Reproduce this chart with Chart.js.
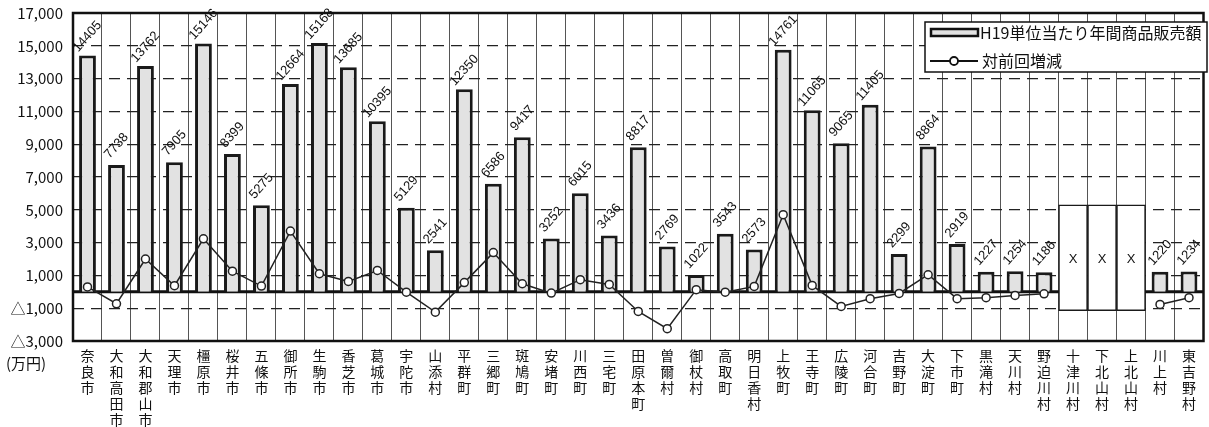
<!DOCTYPE html>
<html><head><meta charset="utf-8">
<script src="https://cdn.jsdelivr.net/npm/chart.js@4/dist/chart.umd.min.js"></script>
<style>html,body{margin:0;padding:0;background:#fff}#wrap{width:1209px;height:427px;position:relative}</style>
</head><body><div id="wrap"><canvas id="c" width="1209" height="427"></canvas></div>
<script>
const categories = ['奈良市','大和高田市','大和郡山市','天理市','橿原市','桜井市','五條市','御所市','生駒市','香芝市','葛城市','宇陀市','山添村','平群町','三郷町','斑鳩町','安堵町','川西町','三宅町','田原本町','曽爾村','御杖村','高取町','明日香村','上牧町','王寺町','広陵町','河合町','吉野町','大淀町','下市町','黒滝村','天川村','野迫川村','十津川村','下北山村','上北山村','川上村','東吉野村'];
const salesValues = [14405,7738,13762,7905,15146,8399,5275,12664,15168,13685,10395,5129,2541,12350,6586,9417,3252,6015,3436,8817,2769,1022,3543,2573,14761,11065,9065,11405,2299,8864,2919,1227,1254,1186,null,null,null,1220,1234];
const changeValues = [300,-730,2000,370,3230,1260,350,3700,1100,630,1300,-20,-1240,560,2390,490,-80,740,450,-1200,-2250,130,-20,330,4700,390,-890,-420,-100,1040,-420,-360,-220,-120,null,null,null,-770,-360];
const hiddenCategories = ['十津川村','下北山村','上北山村'];
const hiddenBoxRange = [-1150, 5300];
const hiddenMark = 'X';
const seriesNames = ['H19単位当たり年間商品販売額','対前回増減'];
const unitLabel = '(万円)';
const yMin = -3000, yMax = 17000, yStep = 2000;

const boxData = categories.map(c => hiddenCategories.includes(c) ? hiddenBoxRange.slice() : null);
const fmt = v => (v < 0 ? '△' : '') + Math.abs(v).toLocaleString('en-US');

const decor = {
  id: 'decor',
  beforeDatasetsDraw(chart) {
    const {ctx, chartArea: a, scales: {y}} = chart;
    const y0 = y.getPixelForValue(0);
    ctx.save();
    ctx.strokeStyle = '#111'; ctx.lineWidth = 3;
    ctx.beginPath(); ctx.moveTo(a.left, y0); ctx.lineTo(a.right, y0); ctx.stroke();
    ctx.restore();
  },
  afterDatasetsDraw(chart) {
    const {ctx, chartArea: a} = chart;
    ctx.save();
    const meta = chart.getDatasetMeta(1);
    ctx.fillStyle = '#111';
    ctx.font = '13px "Liberation Sans", Arial, sans-serif';
    ctx.textAlign = 'center'; ctx.textBaseline = 'middle';
    meta.data.forEach((el, i) => {
      const v = salesValues[i];
      if (v == null) return;
      ctx.save();
      ctx.translate(el.x, el.y - 19);
      ctx.rotate(-Math.PI * 0.27);
      ctx.fillText(String(v), 0, 0);
      ctx.restore();
    });
    const bm = chart.getDatasetMeta(2);
    bm.data.forEach((el, i) => {
      if (boxData[i] == null) return;
      const yc = chart.scales.y.getPixelForValue(2000);
      ctx.fillText(hiddenMark, el.x, yc);
    });
    ctx.strokeStyle = '#111'; ctx.lineWidth = 2.5;
    ctx.strokeRect(a.left, a.top, a.right - a.left, a.bottom - a.top);
    ctx.restore();
  },
  afterDraw(chart) {
    const {ctx} = chart;
    ctx.save();
    ctx.fillStyle = '#111';
    ctx.font = '15px "Noto Sans CJK JP", sans-serif';
    ctx.textAlign = 'left'; ctx.textBaseline = 'middle';
    ctx.fillText(unitLabel, 6, 363);
    const lx = 925, ly = 22, lw = 282, lh = 50;
    ctx.fillStyle = '#fff';
    ctx.fillRect(lx, ly, lw, lh);
    ctx.strokeStyle = '#111'; ctx.lineWidth = 1.5;
    ctx.strokeRect(lx, ly, lw, lh);
    ctx.fillStyle = '#e2e2e2';
    ctx.fillRect(931, 29, 47, 7);
    ctx.strokeStyle = '#111'; ctx.lineWidth = 2.5;
    ctx.strokeRect(931, 29, 47, 7);
    ctx.fillStyle = '#111';
    ctx.font = '16px "Noto Sans CJK JP", sans-serif';
    ctx.fillText(seriesNames[0], 980, 33);
    ctx.lineWidth = 1.8;
    ctx.beginPath(); ctx.moveTo(930, 61); ctx.lineTo(978, 61); ctx.stroke();
    ctx.fillStyle = '#fff';
    ctx.beginPath(); ctx.arc(954, 61, 4, 0, Math.PI * 2); ctx.fill(); ctx.stroke();
    ctx.fillStyle = '#111';
    ctx.fillText(seriesNames[1], 982, 61);
    ctx.restore();
  }
};

new Chart(document.getElementById('c'), {
  type: 'bar',
  data: {
    labels: categories.map(c => Array.from(c)),
    datasets: [
      {type: 'line', label: seriesNames[1], data: changeValues, borderColor: '#222', borderWidth: 1.5,
       pointRadius: 4, pointBackgroundColor: '#fff', pointBorderColor: '#222', pointBorderWidth: 1.5,
       spanGaps: false, tension: 0, order: 0},
      {type: 'bar', label: seriesNames[0], data: salesValues, backgroundColor: '#e2e2e2', borderColor: '#1a1a1a',
       borderWidth: 3, barPercentage: 0.58, categoryPercentage: 1, grouped: false, order: 1},
      {type: 'bar', label: hiddenMark, data: boxData, backgroundColor: '#fff', borderColor: '#1a1a1a',
       borderWidth: 1.5, borderSkipped: false, barPercentage: 1, categoryPercentage: 1, grouped: false, order: 2}
    ]
  },
  options: {
    responsive: false, animation: false,
    layout: {padding: {top: 0, right: 2, left: 0, bottom: 0}},
    plugins: {legend: {display: false}, tooltip: {enabled: false}},
    scales: {
      x: {
        grid: {offset: true, color: '#555', lineWidth: 1, drawTicks: false},
        border: {display: false},
        ticks: {font: {family: '"Noto Sans CJK JP", sans-serif', size: 14, lineHeight: '16px'}, color: '#111',
                padding: 7, maxRotation: 0, autoSkip: false},
        afterFit(s) { s.height = 86; }
      },
      y: {
        min: yMin, max: yMax,
        ticks: {stepSize: yStep, callback: v => fmt(v), font: {family: '"Noto Sans CJK JP", sans-serif', size: 15},
                color: '#111', padding: 10},
        grid: {color: ctx => (ctx.tick && (ctx.tick.value === yMin || ctx.tick.value === yMax)) ? 'rgba(0,0,0,0)' : '#222',
               lineWidth: 1.3, drawTicks: false},
        border: {display: false, dash: [11, 7]},
        afterFit(s) { s.width = 73; s.paddingTop = 13; s.paddingBottom = 0; }
      }
    }
  },
  plugins: [decor]
});
</script></body></html>
